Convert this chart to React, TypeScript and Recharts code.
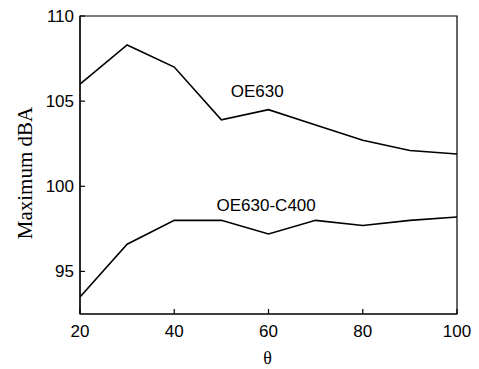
import React from 'react';
import {
  LineChart,
  Line,
  XAxis,
  YAxis,
  ReferenceArea,
  ReferenceDot,
} from 'recharts';

const thetas = [20, 30, 40, 50, 60, 70, 80, 90, 100];
const oe630 = [106.0, 108.3, 107.0, 103.9, 104.5, 103.6, 102.7, 102.1, 101.9];
const oe630c400 = [93.5, 96.6, 98.0, 98.0, 97.2, 98.0, 97.7, 98.0, 98.2];

const xTicks = [20, 40, 60, 80, 100];
const yTicks = [95, 100, 105, 110];
const yDomain = [92.5, 110];

const seriesLabels = [
  { name: 'OE630', x: 57.6, y: 105.6 },
  { name: 'OE630-C400', x: 59.5, y: 98.9 },
];

const data = thetas.map((t, i) => ({ theta: t, a: oe630[i], b: oe630c400[i] }));

const SANS = '"Liberation Sans", Arial, Helvetica, sans-serif';
const SERIF = '"Liberation Serif", "Times New Roman", serif';

const YTitle = (props: any) => {
  const vb = props.viewBox;
  const x = vb.x + 25;
  const y = vb.y + vb.height / 2 + 8;
  return (
    <text
      x={x}
      y={y}
      transform={`rotate(-90 ${x} ${y})`}
      textAnchor="middle"
      dominantBaseline="central"
      fontFamily={SERIF}
      fontSize={21}
      fill="#000"
    >
      Maximum dBA
    </text>
  );
};

const XTitle = (props: any) => {
  const vb = props.viewBox;
  return (
    <text
      x={vb.x + vb.width / 2 - 1}
      y={vb.y + 44}
      textAnchor="middle"
      dominantBaseline="central"
      fontFamily={SERIF}
      fontSize={18}
      fill="#000"
    >
      θ
    </text>
  );
};

export default function App() {
  return (
    <div style={{ position: 'absolute', left: 0, top: 0, background: '#fff' }}>
      <LineChart
        width={479}
        height={369}
        data={data}
        margin={{ top: 16, right: 22, bottom: 0, left: 0 }}
      >
        <XAxis
          dataKey="theta"
          type="number"
          domain={[20, 100]}
          ticks={xTicks}
          height={55}
          tickSize={-5}
          tickMargin={16}
          axisLine={{ stroke: '#000', strokeWidth: 1.2 }}
          tickLine={{ stroke: '#000', strokeWidth: 1.2 }}
          tick={{ fill: '#000', fontSize: 17, fontFamily: SANS }}
          label={<XTitle />}
        />
        <YAxis
          type="number"
          domain={yDomain}
          ticks={yTicks}
          width={80}
          tickSize={-5}
          tickMargin={11}
          axisLine={{ stroke: '#000', strokeWidth: 1.2 }}
          tickLine={{ stroke: '#000', strokeWidth: 1.2 }}
          tick={{ fill: '#000', fontSize: 17, fontFamily: SANS }}
          label={<YTitle />}
        />
        <ReferenceArea
          x1={20}
          x2={100}
          y1={yDomain[0]}
          y2={yDomain[1]}
          fill="none"
          stroke="#000"
          strokeWidth={1.2}
          ifOverflow="visible"
        />
        <Line
          dataKey="a"
          stroke="#000"
          strokeWidth={1.6}
          dot={false}
          isAnimationActive={false}
        />
        <Line
          dataKey="b"
          stroke="#000"
          strokeWidth={1.6}
          dot={false}
          isAnimationActive={false}
        />
        {seriesLabels.map((s) => (
          <ReferenceDot
            key={s.name}
            x={s.x}
            y={s.y}
            r={0}
            fill="none"
            stroke="none"
            ifOverflow="visible"
            label={{
              value: s.name,
              position: 'center',
              fill: '#000',
              fontSize: 17,
              fontFamily: SANS,
            }}
          />
        ))}
      </LineChart>
    </div>
  );
}
